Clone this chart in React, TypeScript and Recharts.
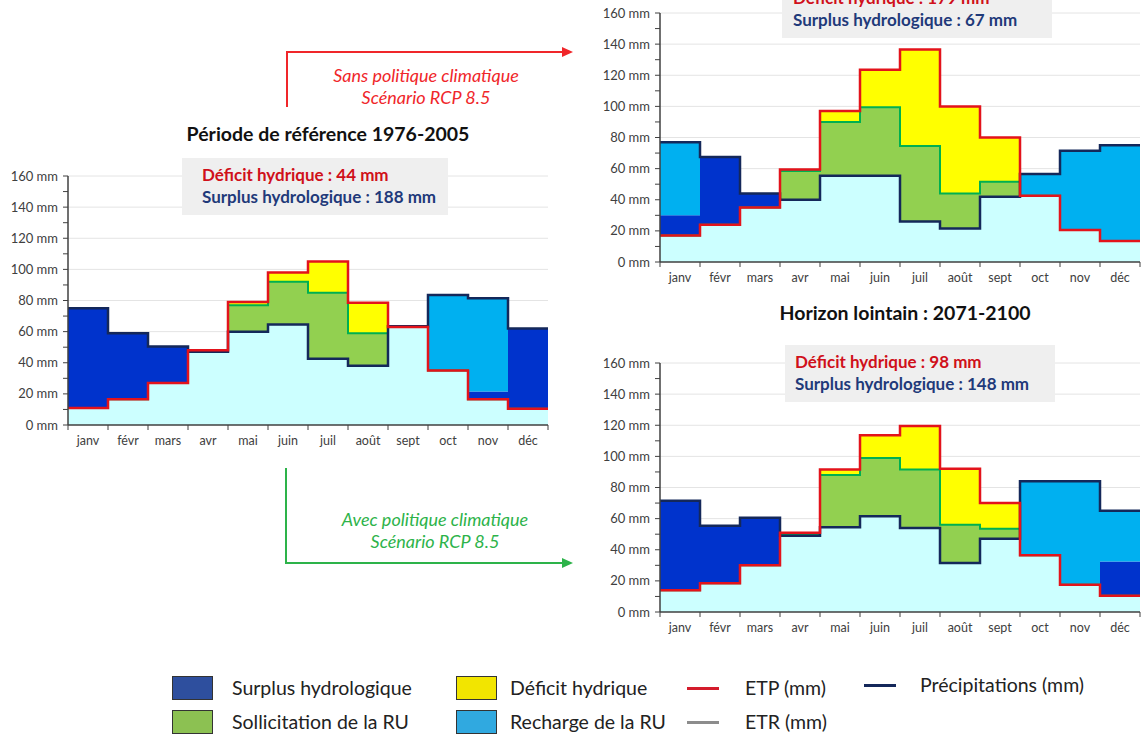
import { ComposedChart, Area, Line, XAxis, YAxis, CartesianGrid } from 'recharts'

const MONTHS = ['janv', 'févr', 'mars', 'avr', 'mai', 'juin', 'juil', 'août', 'sept', 'oct', 'nov', 'déc']
const Y_TICKS = [0, 10, 20, 30, 40, 50, 60, 70, 80, 90, 100, 110, 120, 130, 140, 150, 160]
const GRID_VALUES = [20, 40, 60, 80, 100, 120, 140, 160]
const X_TICKS = [0, 1, 2, 3, 4, 5, 6, 7, 8, 9, 10, 11, 12]

// Période de référence 1976-2005
const REF_P = [75, 59, 50.5, 47, 60, 64.5, 42.5, 38, 63.5, 83.5, 81.5, 62]
const REF_ETP = [11, 16.5, 27, 48, 79, 98, 105, 78.5, 63, 35, 16.5, 10.5]
const REF_ETR = [11, 16.5, 27, 47.5, 77, 92, 85, 59, 63, 35, 16.5, 10.5]
const REF_SURPLUS = [64, 43, 23.5, 0, 0, 0, 0, 0, 0, 0, 5, 51.5]

// Sans politique climatique (RCP 8.5)
const SANS_P = [77, 67.5, 44, 40, 55.5, 55.5, 26, 21.5, 42, 56.5, 71.5, 75]
const SANS_ETP = [17, 24, 35, 59.5, 97, 123.5, 136.5, 100, 80, 42.5, 20.5, 13.5]
const SANS_ETR = [17, 24, 35, 58.5, 90, 99.5, 74.5, 44, 51.5, 42.5, 20.5, 13.5]
const SANS_SURPLUS = [13, 43.5, 9, 0, 0, 0, 0, 0, 0, 0, 0, 0]

// Horizon lointain 2071-2100
const AVEC_P = [71.5, 55.5, 60.5, 49, 54.5, 61.5, 54, 31.5, 47, 84, 84, 65]
const AVEC_ETP = [14, 18.5, 30, 51, 91.5, 113.5, 119.5, 92, 70, 36.5, 17.5, 10.5]
const AVEC_ETR = [14, 18.5, 30, 50, 88, 99, 91.5, 56, 53.5, 36.5, 17.5, 10.5]
const AVEC_SURPLUS = [57.5, 37, 30.5, 0, 0, 0, 0, 0, 0, 0, 0, 22]

const FONT = 'Lato, "Open Sans", sans-serif'
const AXIS = '#404040'
const C_BASE = '#ccffff'
const C_SURPLUS = '#0033cc'
const C_RECHARGE = '#00b0f0'
const C_SOLL = '#92d050'
const C_DEFICIT = '#ffff00'
const C_ETP = '#e3131b'
const C_P = '#14285a'
const C_ETR = '#00b050'
const MONTH_PX = 40

function buildRows(p: number[], etp: number[], etr: number[], surplus: number[]) {
  const rows = []
  for (let i = 0; i <= 12; i++) {
    const m = Math.min(i, 11)
    const P = p[m]
    const E = etp[m]
    const R = etr[m]
    const S = surplus[m]
    const wet = P >= E
    rows.push({
      x: i,
      p: P,
      etp: E,
      etr: R,
      base: [0, Math.min(P, E)],
      surplus: wet ? [E, E + S] : [E, E],
      recharge: wet ? [E + S, P] : [P, P],
      soll: wet ? [E, E] : [P, R],
      deficit: wet ? [E, E] : [R, E],
    })
  }
  return rows
}

const MonthTick = ({ x, y, payload }: any) => {
  if (payload.value >= 12) return <g />
  return (
    <text x={x + MONTH_PX / 2} y={y + 13} textAnchor="middle" fontSize={12.5} fill={AXIS} fontFamily={FONT}>
      {MONTHS[payload.value]}
    </text>
  )
}

function Panel({ left, top, width, yAxisWidth, rows }: any) {
  return (
    <div style={{ position: 'absolute', left, top }}>
      <ComposedChart width={width} height={289} data={rows} margin={{ top: 10, right: width - yAxisWidth - 480, left: 0, bottom: 0 }}>
        <CartesianGrid horizontalValues={GRID_VALUES} vertical={false} stroke="#e4e4e4" />
        <XAxis
          dataKey="x"
          type="number"
          domain={[0, 12]}
          ticks={X_TICKS}
          interval={0}
          height={30}
          tickSize={5}
          tick={<MonthTick />}
          axisLine={{ stroke: AXIS, strokeWidth: 1.5 }}
          tickLine={{ stroke: AXIS }}
        />
        <YAxis
          type="number"
          domain={[0, 160]}
          ticks={Y_TICKS}
          interval={0}
          width={yAxisWidth}
          tickSize={5}
          tickMargin={5}
          tickFormatter={(v: number) => (v % 20 === 0 ? `${v} mm` : '')}
          tick={{ fontSize: 13, fill: AXIS, fontFamily: FONT }}
          axisLine={{ stroke: AXIS, strokeWidth: 1.5 }}
          tickLine={{ stroke: AXIS }}
        />
        <Area dataKey="base" type="stepAfter" stroke="none" fill={C_BASE} fillOpacity={1} isAnimationActive={false} />
        <Area dataKey="surplus" type="stepAfter" stroke="none" fill={C_SURPLUS} fillOpacity={1} isAnimationActive={false} />
        <Area dataKey="recharge" type="stepAfter" stroke="none" fill={C_RECHARGE} fillOpacity={1} isAnimationActive={false} />
        <Area dataKey="soll" type="stepAfter" stroke="none" fill={C_SOLL} fillOpacity={1} isAnimationActive={false} />
        <Area dataKey="deficit" type="stepAfter" stroke="none" fill={C_DEFICIT} fillOpacity={1} isAnimationActive={false} />
        <Line dataKey="etr" type="stepAfter" stroke={C_ETR} strokeWidth={2} dot={false} isAnimationActive={false} />
        <Line dataKey="p" type="stepAfter" stroke={C_P} strokeWidth={2.5} dot={false} isAnimationActive={false} />
        <Line dataKey="etp" type="stepAfter" stroke={C_ETP} strokeWidth={2.5} dot={false} isAnimationActive={false} />
      </ComposedChart>
    </div>
  )
}

function InfoBox({ left, top, width, padLeft, deficit, surplus }: any) {
  return (
    <div
      style={{
        position: 'absolute', left, top, width, height: 57, background: '#efefef', whiteSpace: 'nowrap',
        fontFamily: FONT, fontWeight: 700, fontSize: 17, lineHeight: '22px', paddingLeft: padLeft, paddingTop: 6, boxSizing: 'border-box',
      }}
    >
      <div style={{ color: '#d0101a' }}>Déficit hydrique : {deficit} mm</div>
      <div style={{ color: '#1f3a7a' }}>Surplus hydrologique : {surplus} mm</div>
    </div>
  )
}

const Swatch = ({ left, top, color }: any) => (
  <div style={{ position: 'absolute', left, top, width: 41, height: 24, background: color, border: '1.5px solid #333', boxSizing: 'border-box' }} />
)
const LegLine = ({ left, top, color }: any) => (
  <div style={{ position: 'absolute', left, top, width: 32, height: 3, background: color }} />
)
const LegText = ({ left, top, children }: any) => (
  <div style={{ position: 'absolute', left, top, fontSize: 19.5, color: '#222', fontFamily: FONT, lineHeight: '24px', whiteSpace: 'nowrap' }}>{children}</div>
)

export default function App() {
  const refRows = buildRows(REF_P, REF_ETP, REF_ETR, REF_SURPLUS)
  const sansRows = buildRows(SANS_P, SANS_ETP, SANS_ETR, SANS_SURPLUS)
  const avecRows = buildRows(AVEC_P, AVEC_ETP, AVEC_ETR, AVEC_SURPLUS)

  return (
    <div style={{ position: 'absolute', left: 0, top: 0, width: 1142, height: 737, background: '#fff', overflow: 'hidden', fontFamily: FONT }}>
      <Panel left={0} top={166} width={552} yAxisWidth={68} rows={refRows} />
      <Panel left={600} top={3} width={542} yAxisWidth={60} rows={sansRows} />
      <Panel left={600} top={353} width={542} yAxisWidth={60} rows={avecRows} />

      <div style={{ position: 'absolute', left: 128, top: 122, width: 400, textAlign: 'center', fontWeight: 700, fontSize: 19.5, color: '#111' }}>
        Période de référence 1976-2005
      </div>
      <div style={{ position: 'absolute', left: 705, top: 301, width: 400, textAlign: 'center', fontWeight: 700, fontSize: 19.5, color: '#111' }}>
        Horizon lointain : 2071-2100
      </div>

      <InfoBox left={182} top={158} width={266} padLeft={20} deficit={44} surplus={188} />
      <InfoBox left={782} top={-19} width={270} padLeft={11} deficit={179} surplus={67} />
      <InfoBox left={785} top={345} width={270} padLeft={10} deficit={98} surplus={148} />

      <svg width={1142} height={737} style={{ position: 'absolute', left: 0, top: 0, pointerEvents: 'none' }}>
        <path d="M287,107 V52 H562" fill="none" stroke="#f0262a" strokeWidth={2} />
        <polygon points="562,47 573,52 562,57" fill="#f0262a" />
        <text x={426} y={82} textAnchor="middle" fontStyle="italic" fontSize={18} fill="#f0262a" fontFamily={FONT}>Sans politique climatique</text>
        <text x={426} y={104} textAnchor="middle" fontStyle="italic" fontSize={18} fill="#f0262a" fontFamily={FONT}>Scénario RCP 8.5</text>
        <path d="M286,468 V563 H562" fill="none" stroke="#2db34a" strokeWidth={2} />
        <polygon points="562,558 573,563 562,568" fill="#2db34a" />
        <text x={435} y={526} textAnchor="middle" fontStyle="italic" fontSize={18} fill="#2db34a" fontFamily={FONT}>Avec politique climatique</text>
        <text x={435} y={548} textAnchor="middle" fontStyle="italic" fontSize={18} fill="#2db34a" fontFamily={FONT}>Scénario RCP 8.5</text>
      </svg>

      <Swatch left={172} top={676} color="#2e4f9e" />
      <LegText left={232} top={676}>Surplus hydrologique</LegText>
      <Swatch left={456} top={676} color="#f2e500" />
      <LegText left={510} top={676}>Déficit hydrique</LegText>
      <LegLine left={687} top={687} color="#d41c2c" />
      <LegText left={745} top={676}>ETP (mm)</LegText>
      <LegLine left={864} top={684} color="#14285a" />
      <LegText left={920} top={673}>Précipitations (mm)</LegText>

      <Swatch left={172} top={710} color="#8cc152" />
      <LegText left={232} top={710}>Sollicitation de la RU</LegText>
      <Swatch left={456} top={710} color="#30a9e0" />
      <LegText left={510} top={710}>Recharge de la RU</LegText>
      <LegLine left={687} top={721} color="#8c8c8c" />
      <LegText left={745} top={710}>ETR (mm)</LegText>
    </div>
  )
}
